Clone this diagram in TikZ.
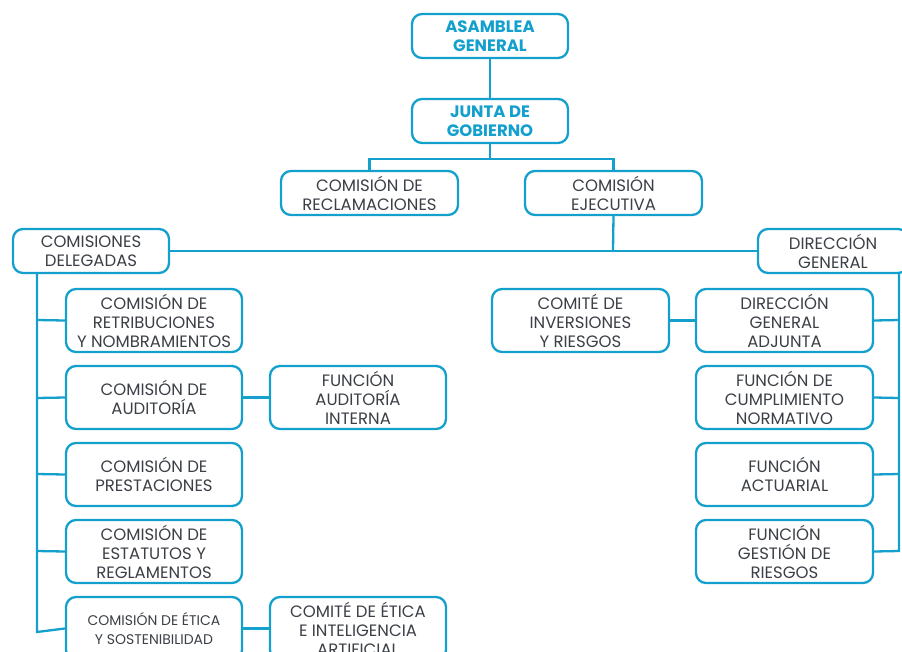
\documentclass[tikz,border=0pt]{standalone}
\usepackage{fontspec}
\setmainfont{Poppins}
\definecolor{cy}{RGB}{20,160,205}
\definecolor{tx}{RGB}{60,64,70}
\begin{document}
\begin{tikzpicture}[x=1pt,y=-1pt,
  box/.style={draw=cy,line width=2.3pt,rounded corners=10pt,fill=white,align=center,
    font=\fontsize{16.5}{19}\selectfont,text=tx,inner sep=0pt},
  top/.style={box,font=\fontsize{16.5}{19}\bfseries\selectfont,text=cy},
  ln/.style={cy,line width=2.3pt}]
\useasboundingbox (0,0) rectangle (902,651);
\newcommand{\bx}[7]{\node[#1,minimum width=#4-#2,minimum height=#5-#3] (#6) at ({(#2+#4)/2},{(#3+#5)/2}) {#7};}
\bx{top}{412}{14}{568}{58}{ag}{ASAMBLEA\\GENERAL}
\bx{top}{412}{99}{568}{143}{jg}{JUNTA DE\\GOBIERNO}
\bx{box}{281}{171}{458}{215}{rec}{COMISIÓN DE\\RECLAMACIONES}
\bx{box}{525}{171}{702}{215}{eje}{COMISIÓN\\EJECUTIVA}
\bx{box}{13}{229}{169}{273}{del}{COMISIONES\\DELEGADAS}
\bx{box}{758}{229}{908}{273}{dg}{DIRECCIÓN\\GENERAL}
\bx{box}{66}{289}{242}{352}{ret}{COMISIÓN DE\\RETRIBUCIONES\\Y NOMBRAMIENTOS}
\bx{box}{66}{366}{242}{429}{aud}{COMISIÓN DE\\AUDITORÍA}
\bx{box}{66}{443}{242}{506}{pre}{COMISIÓN DE\\PRESTACIONES}
\bx{box}{66}{520}{242}{583}{est}{COMISIÓN DE\\ESTATUTOS Y\\REGLAMENTOS}
\bx{box}{66}{597}{242}{660}{eti}{\fontsize{14}{19}\selectfont COMISIÓN DE ÉTICA\\\fontsize{14}{19}\selectfont Y SOSTENIBILIDAD}
\bx{box}{270}{366}{446}{429}{fai}{FUNCIÓN\\AUDITORÍA\\INTERNA}
\bx{box}{270}{597}{446}{660}{cia}{COMITÉ DE ÉTICA\\E INTELIGENCIA\\ARTIFICIAL}
\bx{box}{492}{289}{669}{352}{inv}{COMITÉ DE\\INVERSIONES\\Y RIESGOS}
\bx{box}{696}{289}{873}{352}{dga}{DIRECCIÓN\\GENERAL\\ADJUNTA}
\bx{box}{696}{366}{873}{429}{cum}{FUNCIÓN DE\\CUMPLIMIENTO\\NORMATIVO}
\bx{box}{696}{443}{873}{506}{act}{FUNCIÓN\\ACTUARIAL}
\bx{box}{696}{520}{873}{583}{ges}{FUNCIÓN\\GESTIÓN DE\\RIESGOS}
% connectors
\draw[ln] (ag.south) -- (jg.north);
\coordinate (j1) at (490,159);
\draw[ln] (jg.south) -- (j1);
\draw[ln] (rec.north) |- (j1) -| (eje.north);
\coordinate (e1) at (613,250);
\draw[ln] (eje.south) -- (e1);
\draw[ln] (del.east) -- (dg.west);
\coordinate (lt) at (37,273);
\coordinate (lb) at (37,632);
\draw[ln] (lt) -- (lb) -- (eti.west);
\draw[ln] (37,320) -- (ret.west);
\draw[ln] (37,398) -- (aud.west);
\draw[ln] (37,474) -- (pre.west);
\draw[ln] (37,551) -- (est.west);
\draw[ln] (aud.east) -- (fai.west);
\draw[ln] (eti.east) -- (cia.west);
\draw[ln] (inv.east) -- (dga.west);
\coordinate (rt) at (899,273);
\coordinate (rb) at (899,551);
\draw[ln] (rt) -- (rb) -- (ges.east);
\draw[ln] (dga.east) -- (899,320);
\draw[ln] (cum.east) -- (899,398);
\draw[ln] (act.east) -- (899,474);
\end{tikzpicture}
\end{document}
